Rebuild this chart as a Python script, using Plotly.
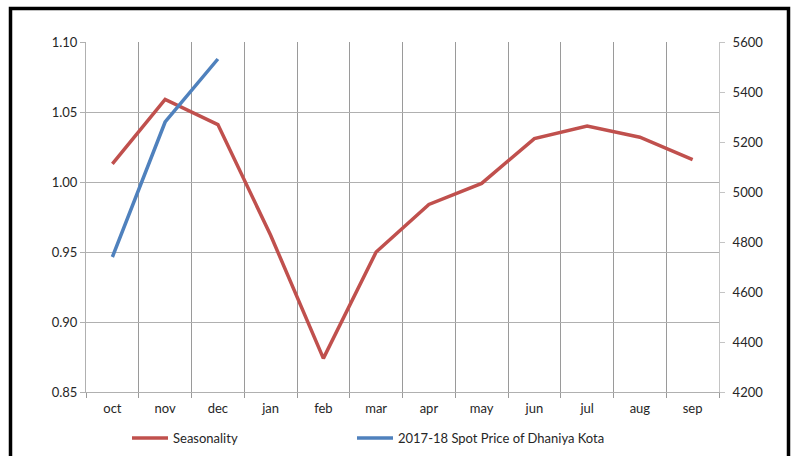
import plotly.graph_objects as go

months = ["oct", "nov", "dec", "jan", "feb", "mar", "apr", "may", "jun", "jul", "aug", "sep"]
seasonality = [1.013, 1.059, 1.041, 0.962, 0.874, 0.950, 0.984, 0.999, 1.031, 1.040, 1.032, 1.016]
spot_months = ["oct", "nov", "dec"]
spot_price = [4740, 5280, 5532]

RED = "#C0504D"
BLUE = "#4F81BD"
VGRID = "#9A9A9A"
HGRID = "#B0B0B0"
FONT = dict(family="Lato, Open Sans, sans-serif", size=13, color="#262626")

fig = go.Figure()
fig.add_trace(go.Scatter(x=months, y=seasonality, mode="lines", name="Seasonality",
                         line=dict(color=RED, width=3.5), legend="legend"))
fig.add_trace(go.Scatter(x=spot_months, y=spot_price, mode="lines",
                         name="2017-18 Spot Price of Dhaniya Kota",
                         line=dict(color=BLUE, width=3.5), yaxis="y2", legend="legend2"))

L, R, T, B = 86, 77, 42, 64
W, H = 796, 456
pw, ph = W - L - R, H - T - B

def px(x):
    return (x - L) / pw

def py(y):
    return (H - B - y) / ph

fig.update_layout(
    width=W, height=H,
    margin=dict(l=L, r=R, t=T, b=B, autoexpand=False),
    paper_bgcolor="white", plot_bgcolor="white",
    font=FONT,
    showlegend=True,
    xaxis=dict(type="category", categoryorder="array", categoryarray=months,
               tickson="boundaries", ticks="outside", ticklen=5, tickcolor=VGRID,
               showgrid=True, gridcolor=VGRID, gridwidth=1,
               showline=True, linecolor=HGRID, linewidth=1, ticklabelstandoff=4,
               range=[-0.5, 11.5], fixedrange=True, tickfont=FONT),
    yaxis=dict(range=[0.85, 1.10], dtick=0.05, tickformat=".2f",
               ticks="outside", ticklen=5, tickcolor=HGRID,
               showgrid=True, gridcolor=HGRID, gridwidth=1, zeroline=False,
               showline=True, linecolor=HGRID, linewidth=1, tickfont=FONT),
    yaxis2=dict(range=[4200, 5600], dtick=200, overlaying="y", side="right",
                ticks="outside", ticklen=5, tickcolor="#C4C4C4", showgrid=False,
                zeroline=False, showline=True, linecolor="#C4C4C4", linewidth=1,
                ticklabelstandoff=5, tickfont=FONT),
    legend=dict(orientation="h", x=px(127), y=py(438), xanchor="left", yanchor="middle",
                bgcolor="rgba(0,0,0,0)", font=FONT, itemwidth=36),
    legend2=dict(orientation="h", x=px(352), y=py(438), xanchor="left", yanchor="middle",
                 bgcolor="rgba(0,0,0,0)", font=FONT, itemwidth=36),
    shapes=[dict(type="rect", xref="paper", yref="paper",
                 x0=px(10.5), x1=px(788.5), y0=py(470), y1=py(8.5),
                 line=dict(color="black", width=3.5), fillcolor="rgba(0,0,0,0)",
                 layer="above")],
)

fig.write_html("out.html")
